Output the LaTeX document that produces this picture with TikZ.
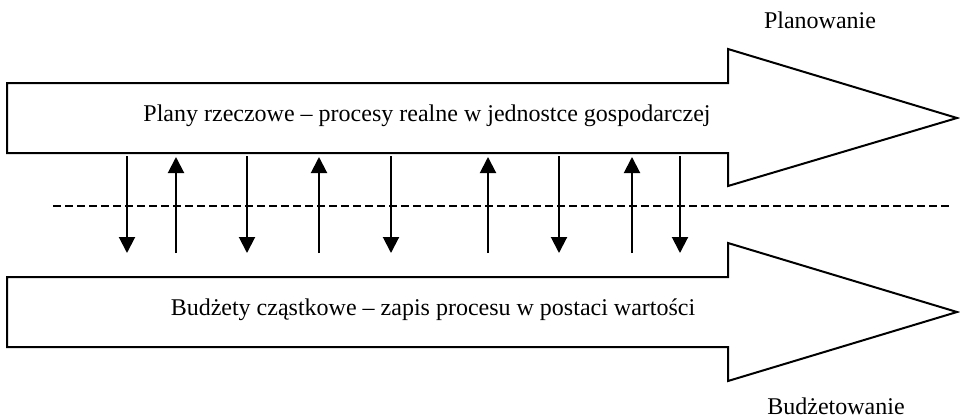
\documentclass[tikz,border=0pt]{standalone}
\usepackage{fontspec}
\setmainfont{Liberation Serif}
\usetikzlibrary{arrows.meta}
\begin{document}
\begin{tikzpicture}[x=1pt,y=-1pt,
  bigarrow/.style={draw=black,line width=2pt,line join=miter},
  label/.style={font=\fontsize{24}{28}\selectfont,inner sep=0pt,anchor=base},
  link/.style={line width=2pt,-{Triangle[length=16pt,width=16pt]}},
  divider/.style={line width=2pt,dash pattern=on 8pt off 4pt}]
\useasboundingbox (0,0) rectangle (960,418);

% planning arrow (top)
\draw[bigarrow] (7,83) -- (728,83) -- (728,49) -- (957,118) -- (728,186)
  -- (728,153) -- (7,153) -- cycle;
% budgeting arrow (bottom)
\draw[bigarrow] (7,277) -- (728,277) -- (728,243) -- (957,312) -- (728,381)
  -- (728,347) -- (7,347) -- cycle;

\node[label] (plany) at (427,121) {Plany rzeczowe – procesy realne w jednostce gospodarczej};
\node[label] (budzety) at (433,315) {Budżety cząstkowe – zapis procesu w postaci wartości};
\node[label] (planowanie) at (820,28) {Planowanie};
\node[label] (budzetowanie) at (836,414) {Budżetowanie};

% dashed boundary between the two layers
\coordinate (dl) at (53,206);
\coordinate (dr) at (950,206);
\draw[divider] (dl) -- (dr);

% downward links (plans -> budgets)
\foreach \x [count=\i] in {127,247,391,559,680} {
  \coordinate (d\i a) at (\x,156);
  \coordinate (d\i b) at (\x,253);
  \draw[link] (d\i a) -- (d\i b);
}
% upward links (budgets -> plans)
\foreach \x [count=\i] in {176,319,488,632} {
  \coordinate (u\i a) at (\x,253);
  \coordinate (u\i b) at (\x,157);
  \draw[link] (u\i a) -- (u\i b);
}
\end{tikzpicture}
\end{document}
